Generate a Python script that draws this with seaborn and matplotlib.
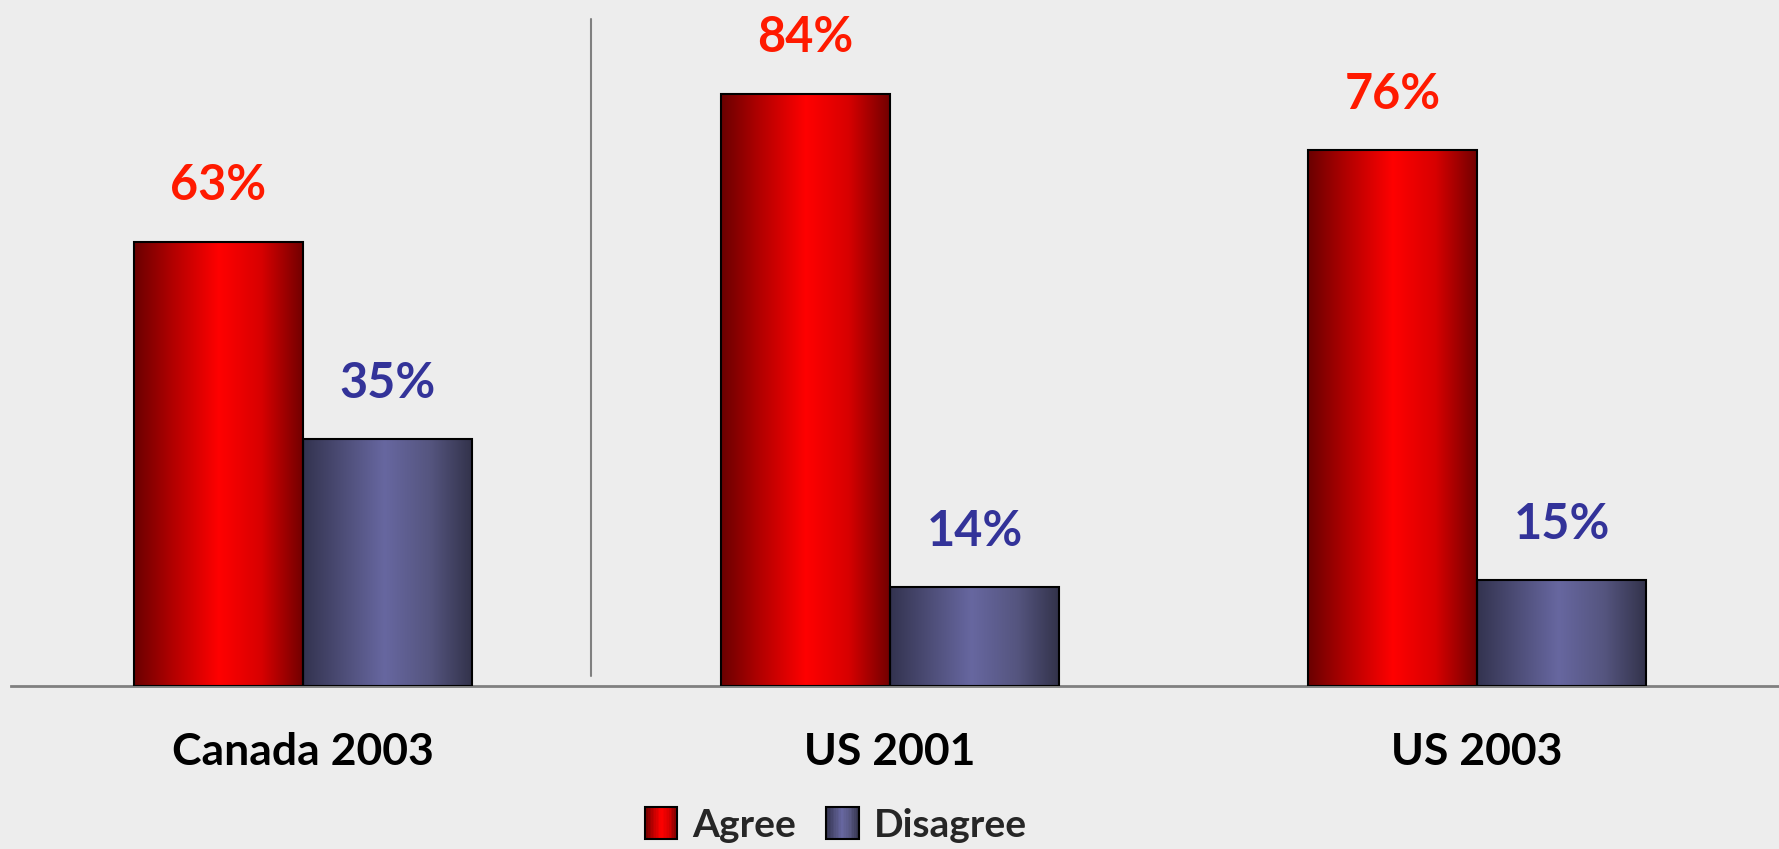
import matplotlib.pyplot as plt
import numpy as np
import pandas as pd
import seaborn as sns
from matplotlib.colors import LinearSegmentedColormap
from matplotlib.patches import Rectangle
from matplotlib.legend_handler import HandlerBase

groups = ["Canada 2003", "US 2001", "US 2003"]
series = ["Agree", "Disagree"]
agree = [63, 84, 76]
disagree = [35, 14, 15]

df = pd.DataFrame({
    "group": groups * 2,
    "answer": ["Agree"] * 3 + ["Disagree"] * 3,
    "pct": agree + disagree,
})

bg = "#EDEDED"
red_cmap = LinearSegmentedColormap.from_list(
    "redgrad", [(0, "#6A0000"), (0.22, "#B00000"), (0.5, "#FF0000"), (0.75, "#D80000"), (1, "#700000")])
blue_cmap = LinearSegmentedColormap.from_list(
    "bluegrad", [(0, "#33334F"), (0.25, "#4F4F7A"), (0.48, "#6767A0"), (0.75, "#55557F"), (1, "#32324A")])
cmaps = {"Agree": red_cmap, "Disagree": blue_cmap}
label_colors = {"Agree": "#FF1A00", "Disagree": "#333399"}

sns.set_style("white")
plt.rcParams["font.family"] = ["Lato", "DejaVu Sans"]

fig = plt.figure(figsize=(17.79, 8.49), dpi=100, facecolor=bg)
ax = fig.add_axes([11 / 1779, 163 / 849, 1 - 11 / 1779, 686 / 849])
ax.set_facecolor(bg)

sns.barplot(data=df, x="group", y="pct", hue="answer",
            order=groups, hue_order=series, width=0.576,
            palette=["#E00000", "#5A5A88"], edgecolor="black", linewidth=1.5,
            legend=False, ax=ax, zorder=3)

grad = np.linspace(0, 1, 256).reshape(1, -1)
for name, cont in zip(series, ax.containers):
    for bar in cont:
        x0 = bar.get_x()
        w = bar.get_width()
        h = bar.get_height()
        im = ax.imshow(grad, extent=[x0, x0 + w, 0, h], aspect="auto",
                       cmap=cmaps[name], zorder=2, interpolation="bilinear")
        im.set_clip_path(bar)
        bar.set_facecolor("none")
        ax.annotate(f"{int(round(h))}%", (x0 + w / 2, h), xytext=(0, 30),
                    textcoords="offset points", ha="center", va="baseline",
                    fontsize=35, fontweight="bold", color=label_colors[name])

ax.set_xlim(-0.497, 2.514)
ax.set_ylim(0, 97.3)
ax.set_xlabel("")
ax.set_ylabel("")
ax.set_yticks([])
ax.tick_params(axis="x", length=0, pad=33, labelsize=32)
for lab in ax.get_xticklabels():
    lab.set_fontweight("bold")
    lab.set_color("black")

for s in ["top", "right", "left"]:
    ax.spines[s].set_visible(False)
ax.spines["bottom"].set_color("#808080")
ax.spines["bottom"].set_linewidth(2)

# divider between Canada and US
ax.axvline(0.49, ymin=10 / 686, ymax=667 / 686, color="#808080", linewidth=1.5, zorder=1)


class GradHandler(HandlerBase):
    def __init__(self, cmap):
        super().__init__()
        self.cmap = cmap

    def create_artists(self, legend, orig_handle, xdescent, ydescent,
                       width, height, fontsize, trans):
        side = height * 1.2
        x0 = -xdescent + (width - side) / 2
        y0 = -ydescent + (height - side) / 2
        n = 20
        arts = []
        for i in range(n):
            r = Rectangle((x0 + side * i / n, y0), side / n + 0.3, side,
                          facecolor=self.cmap((i + 0.5) / n), edgecolor="none",
                          transform=trans)
            arts.append(r)
        arts.append(Rectangle((x0, y0), side, side, facecolor="none",
                              edgecolor="black", linewidth=1.5, transform=trans))
        return arts


h_agree = Rectangle((0, 0), 1, 1)
h_dis = Rectangle((0, 0), 1, 1)
fig.legend([h_agree, h_dis], series, loc="center", bbox_to_anchor=(0.47, 0.028),
           ncol=2, frameon=False, handlelength=0.8, handletextpad=0.4,
           columnspacing=0.8,
           handler_map={h_agree: GradHandler(red_cmap), h_dis: GradHandler(blue_cmap)},
           prop={"weight": "bold", "size": 28})

fig.savefig("out.png", dpi=100, facecolor=bg)
